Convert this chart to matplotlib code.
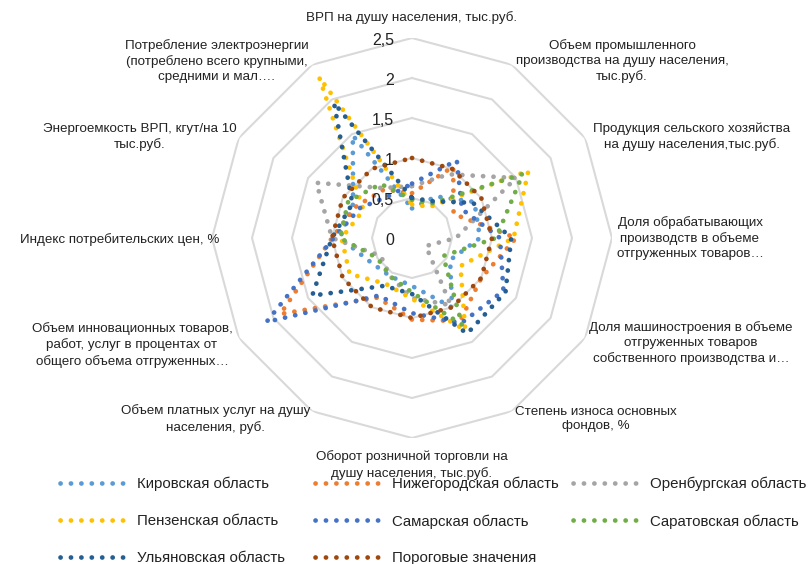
import numpy as np
import matplotlib
matplotlib.use("Agg")
import matplotlib.pyplot as plt

plt.rcParams["font.family"] = ["Liberation Sans", "DejaVu Sans"]
plt.rcParams["lines.scale_dashes"] = False

# axis categories, clockwise from the top
categories = [
    "ВРП на душу населения, тыс.руб.",
    "Объем промышленного\nпроизводства на душу населения,\nтыс.руб.",
    "Продукция сельского хозяйства\nна душу населения,тыс.руб.",
    "Доля обрабатывающих\nпроизводств в объеме\nотгруженных товаров…",
    "Доля машиностроения в объеме\nотгруженных товаров\nсобственного производства и…",
    "Степень износа основных\nфондов, %",
    "Оборот розничной торговли на\nдушу населения, тыс.руб.",
    "Объем платных услуг на душу\nнаселения, руб.",
    "Объем инновационных товаров,\nработ, услуг в процентах от\nобщего объема отгруженных…",
    "Индекс потребительских цен, %",
    "Энергоемкость ВРП, кгут/на 10\nтыс.руб.",
    "Потребление электроэнергии\n(потреблено всего крупными,\nсредними и мал….",
]
r_ticks = [0, 0.5, 1, 1.5, 2, 2.5]
r_labels = ["0", "0,5", "1", "1,5", "2", "2,5"]

kirov = [0.37, 0.6, 0.9, 0.85, 0.55, 1.0, 0.6, 0.55, 0.6, 0.9, 0.85, 1.48]
nizhny = [0.56, 1.03, 0.6, 1.3, 1.0, 1.2, 1.02, 0.86, 1.9, 1.0, 0.8, 0.7]
orenburg = [0.65, 0.92, 1.5, 0.55, 0.2, 0.97, 0.75, 0.55, 0.45, 1.0, 1.38, 0.72]
penza = [0.42, 0.45, 1.68, 1.27, 0.7, 1.33, 0.76, 0.66, 0.9, 0.88, 0.7, 2.32]
samara = [0.68, 1.12, 0.72, 1.1, 1.32, 1.23, 0.94, 0.83, 2.1, 0.98, 0.75, 0.6]
saratov = [0.48, 0.5, 1.6, 1.05, 0.45, 1.25, 0.68, 0.55, 0.5, 0.9, 0.92, 0.78]
ulyanovsk = [0.5, 0.53, 0.88, 1.24, 1.35, 1.38, 0.7, 0.69, 1.44, 1.0, 0.86, 1.95]
threshold = [1, 1, 1, 1, 1, 1, 1, 1, 1, 1, 1, 1]

series = [
    ("Кировская область", kirov, "#5B9BD5"),
    ("Нижегородская область", nizhny, "#ED7D31"),
    ("Оренбургская область", orenburg, "#A5A5A5"),
    ("Пензенская область", penza, "#FFC000"),
    ("Самарская область", samara, "#4472C4"),
    ("Саратовская область", saratov, "#70AD47"),
    ("Ульяновская область", ulyanovsk, "#255E91"),
    ("Пороговые значения", threshold, "#9E480E"),
]

W, H = 808, 564
fig = plt.figure(figsize=(W / 100, H / 100), dpi=100)
cx, cy, rad = 412, 238, 200
ax = fig.add_axes([(cx - rad) / W, 1 - (cy + rad) / H, 2 * rad / W, 2 * rad / H],
                  projection="polar")
ax.set_theta_offset(np.pi / 2)
ax.set_theta_direction(-1)
ax.set_ylim(0, 2.5)
ax.set_axis_off()

n = len(categories)
ang = np.linspace(0, 2 * np.pi, n, endpoint=False)
ang_c = np.append(ang, ang[0])

for r in r_ticks[1:]:
    ax.plot(ang_c, [r] * (n + 1), color="#D9D9D9", lw=1.5, zorder=1)

dot = (0, (0.1, 7.4))
lines = []
for name, vals, col in series:
    ln, = ax.plot(ang_c, vals + vals[:1], color=col, lw=3.4, linestyle=dot,
                  dash_capstyle="round", label=name, zorder=3)
    lines.append(ln)

for r, lab in zip(r_ticks, r_labels):
    ax.annotate(lab, (0, r), xytext=(-13, -1.5), textcoords="offset points",
                ha="right", va="center", fontsize=11.5, color="#222222", zorder=5)

# category labels (pixel centres)
lab_pos = [(412, 18), (622, 61), (692, 137), (690, 238), (691, 343), (596, 419),
           (412, 465), (216, 419), (132, 345), (120, 240), (140, 137), (217, 61)]
for txt, (x, y) in zip(categories, lab_pos):
    fig.text(x / W, 1 - y / H, txt, ha="center", va="center", fontsize=9.6,
             color="#222222", linespacing=1.33)

# legend: three columns, row-major order as in the source
cols = [[0, 3, 6], [1, 4, 7], [2, 5]]
col_x = [60, 315, 573]
for idx, x in zip(cols, col_x):
    leg = fig.legend([lines[i] for i in idx], [series[i][0] for i in idx],
                     loc="upper left", bbox_to_anchor=(x / W, 1 - 477 / H),
                     frameon=False, fontsize=10.8, handlelength=4.5,
                     handletextpad=0.65, labelspacing=1.52, borderpad=0,
                     borderaxespad=0)
    for t in leg.get_texts():
        t.set_color("#222222")

fig.savefig("out.png", dpi=100)
